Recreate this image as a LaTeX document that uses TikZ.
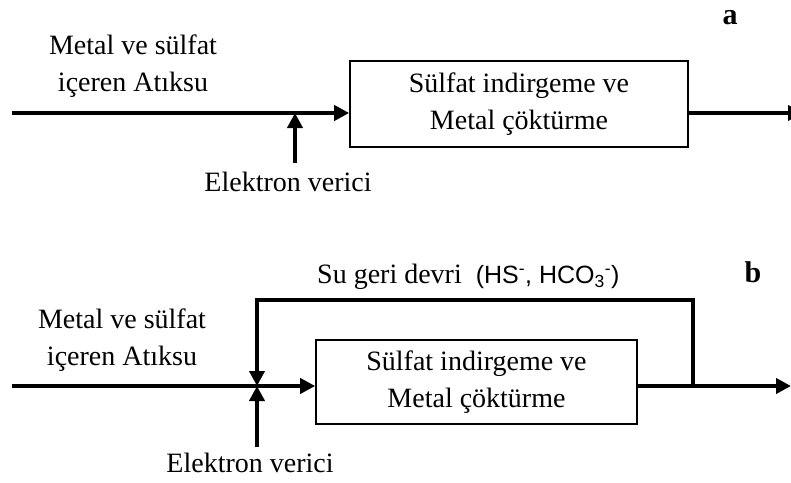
\documentclass[tikz,border=0pt]{standalone}
\usepackage{fontspec}
\setmainfont{Liberation Serif}
\setsansfont{Liberation Sans}
\usetikzlibrary{arrows.meta, positioning}

\tikzset{
  process/.style={draw, rectangle, line width=1.6pt, align=center},
  flow/.style={line width=4pt, -{Triangle[length=15pt,width=15pt]}},
  pipe/.style={line width=4pt},
  tag/.style={font=\bfseries\fontsize{30}{36}\selectfont}
}

\begin{document}
\begin{tikzpicture}[x=1pt, y=-1pt, every node/.style={font=\fontsize{28}{37}\selectfont, inner sep=0pt}]
  \clip (0,0) rectangle (791,482);

  % --- a: without recycle ---
  \node (boxA) [process, minimum width=338pt, minimum height=86pt] at (519,104)
    {Sülfat indirgeme ve\\Metal çöktürme};
  \node (feedA) at (133,66) [align=center] {Metal ve sülfat\\içeren Atıksu};
  \node (donorA) at (288,182) {Elektron verici};
  \node (tagA) [tag] at (730,18) {a};

  \coordinate (inA) at (12,113);
  \coordinate (outA) at (803,113);
  \coordinate (eA) at (295,163);

  \draw [flow] (inA) -- (inA -| boxA.west);
  \draw [flow] (outA -| boxA.east) -- (outA);
  \draw [flow] (eA) -- (eA |- inA);

  % --- b: with water recycle ---
  \node (boxB) [process, minimum width=321pt, minimum height=84pt] at (476.5,382)
    {Sülfat indirgeme ve\\Metal çöktürme};
  \node (feedB) at (122,340) [align=center] {Metal ve sülfat\\içeren Atıksu};
  \node (donorB) at (250,463) {Elektron verici};
  \node (recycle) [anchor=west] at (317,277)
    {Su geri devri\enspace{\sffamily\fontsize{25}{30}\selectfont (HS\textsuperscript{-}, HCO\textsubscript{3}\textsuperscript{-})}};
  \node (tagB) [tag] at (753,272) {b};

  \coordinate (inB) at (12,386);
  \coordinate (jB) at (257,386);
  \coordinate (split) at (693,386);
  \coordinate (outB) at (791,386);
  \coordinate (eB) at (257,447);

  \draw [flow] (inB) -- (inB -| boxB.west);
  \draw [flow] (boxB.east |- outB) -- (outB);
  \draw [flow] (split) -- (693,300) -- (257,300) -- (jB);
  \draw [flow] (eB) -- (jB);
\end{tikzpicture}
\end{document}
